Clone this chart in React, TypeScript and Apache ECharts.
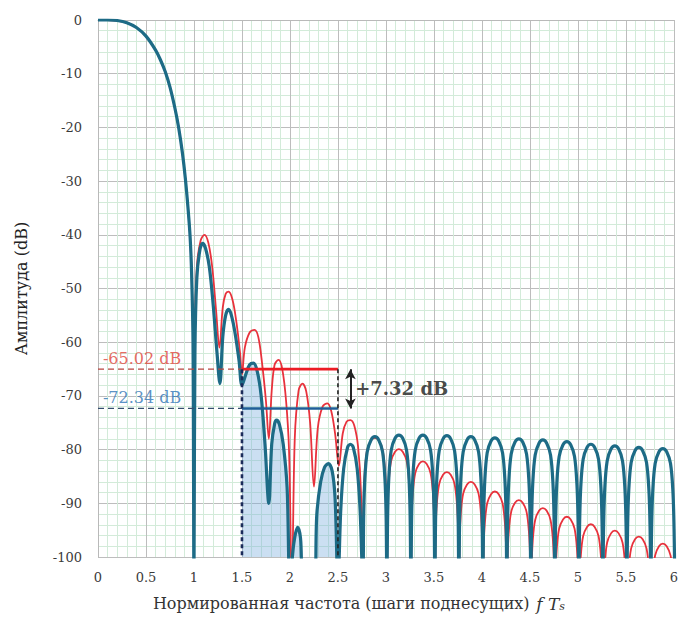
import React, { useEffect, useRef } from 'react';
import * as echarts from 'echarts';

// Blue (teal) spectrum: [normalised frequency, amplitude dB]
const blueCurve: number[][] = [
  [0, 0], [0.1, 0], [0.2, -0.1], [0.3, -0.5], [0.4, -1.4], [0.5, -3], [0.6, -5.6], [0.65, -7.4], [0.7, -9.6],
  [0.75, -12.5], [0.8, -16.3], [0.84, -20], [0.88, -24.8], [0.91, -29.5], [0.94, -35.5], [0.96, -40.5], [0.975, -47], [0.99, -60], [1.0, -105],
  [1.01, -62], [1.03, -48], [1.06, -43], [1.09, -41.6], [1.12, -42.5], [1.16, -46], [1.2, -53], [1.24, -62], [1.27, -67.7],
  [1.3, -59], [1.33, -55], [1.36, -53.9], [1.39, -55], [1.43, -58.5], [1.47, -63.5], [1.5, -68],
  [1.54, -66], [1.58, -64.2], [1.62, -63.9], [1.66, -65.5], [1.7, -70], [1.74, -79], [1.78, -90],
  [1.81, -79], [1.84, -75.2], [1.86, -74.5], [1.89, -75.3], [1.93, -79], [1.97, -87], [2.0, -105],
  [2.04, -97.5], [2.08, -94.5], [2.11, -96.5], [2.14, -105], [2.25, -105],
  [2.28, -92], [2.32, -86], [2.36, -83.3], [2.4, -82.6], [2.44, -84], [2.47, -89], [2.5, -105],
  [2.53, -91], [2.56, -83.5], [2.6, -79.6], [2.63, -79], [2.66, -79.6], [2.7, -83.5], [2.73, -91], [2.76, -105],
  [2.768, -92.6], [2.78, -85.6], [2.805, -80.4], [2.845, -78.2], [2.885, -77.6], [2.925, -78.2], [2.965, -80.4], [2.99, -85.6], [3.002, -92.6], [3.01, -105],
  [3.018, -92.3], [3.03, -85.3], [3.055, -80.1], [3.095, -77.9], [3.135, -77.3], [3.175, -77.9], [3.215, -80.1], [3.24, -85.3], [3.252, -92.3], [3.26, -105],
  [3.268, -92.3], [3.28, -85.3], [3.305, -80.1], [3.345, -77.9], [3.385, -77.3], [3.425, -77.9], [3.465, -80.1], [3.49, -85.3], [3.502, -92.3], [3.51, -105],
  [3.518, -92.4], [3.53, -85.4], [3.555, -80.2], [3.595, -78], [3.635, -77.4], [3.675, -78], [3.715, -80.2], [3.74, -85.4], [3.752, -92.4], [3.76, -105],
  [3.768, -92.6], [3.78, -85.6], [3.805, -80.4], [3.845, -78.2], [3.885, -77.6], [3.925, -78.2], [3.965, -80.4], [3.99, -85.6], [4.002, -92.6], [4.01, -105],
  [4.018, -92.8], [4.03, -85.8], [4.055, -80.6], [4.095, -78.4], [4.135, -77.8], [4.175, -78.4], [4.215, -80.6], [4.24, -85.8], [4.252, -92.8], [4.26, -105],
  [4.268, -93], [4.28, -86], [4.305, -80.8], [4.345, -78.6], [4.385, -78], [4.425, -78.6], [4.465, -80.8], [4.49, -86], [4.502, -93], [4.51, -105],
  [4.518, -93.2], [4.53, -86.2], [4.555, -81], [4.595, -78.8], [4.635, -78.2], [4.675, -78.8], [4.715, -81], [4.74, -86.2], [4.752, -93.2], [4.76, -105],
  [4.768, -93.5], [4.78, -86.5], [4.805, -81.3], [4.845, -79.1], [4.885, -78.5], [4.925, -79.1], [4.965, -81.3], [4.99, -86.5], [5.002, -93.5], [5.01, -105],
  [5.018, -94], [5.03, -87], [5.055, -81.8], [5.095, -79.6], [5.135, -79], [5.175, -79.6], [5.215, -81.8], [5.24, -87], [5.252, -94], [5.26, -105],
  [5.268, -94.3], [5.28, -87.3], [5.305, -82.1], [5.345, -79.9], [5.385, -79.3], [5.425, -79.9], [5.465, -82.1], [5.49, -87.3], [5.502, -94.3], [5.51, -105],
  [5.518, -94.6], [5.53, -87.6], [5.555, -82.4], [5.595, -80.2], [5.635, -79.6], [5.675, -80.2], [5.715, -82.4], [5.74, -87.6], [5.752, -94.6], [5.76, -105],
  [5.768, -94.8], [5.78, -87.8], [5.805, -82.6], [5.845, -80.4], [5.885, -79.8], [5.925, -80.4], [5.965, -82.6], [5.99, -87.8], [6.002, -94.8], [6.01, -105],
];

// Red spectrum
const redCurve: number[][] = [
  [0, 0], [0.1, 0], [0.2, -0.1], [0.3, -0.5], [0.4, -1.4], [0.5, -3], [0.6, -5.6], [0.65, -7.4], [0.7, -9.6],
  [0.75, -12.5], [0.8, -16.3], [0.84, -20], [0.88, -24.8], [0.91, -29.5], [0.94, -35.5], [0.96, -40.5], [0.975, -47], [0.99, -60], [1.0, -105],
  [1.01, -60], [1.03, -46], [1.07, -41], [1.11, -40], [1.15, -41.5], [1.19, -46], [1.23, -54], [1.265, -61],
  [1.3, -53.5], [1.33, -51], [1.36, -50.6], [1.4, -52], [1.44, -56], [1.48, -62], [1.5, -66],
  [1.53, -61], [1.58, -58.2], [1.63, -57.7], [1.67, -59], [1.71, -64], [1.75, -71], [1.78, -78],
  [1.81, -69], [1.84, -64.2], [1.88, -63.3], [1.92, -65], [1.96, -71], [1.99, -80], [2.02, -105],
  [2.05, -78], [2.09, -69], [2.13, -67.7], [2.17, -69.2], [2.21, -75], [2.25, -86.9],
  [2.29, -76], [2.34, -72], [2.39, -71.4], [2.43, -72.8], [2.47, -77], [2.51, -83],
  [2.55, -77], [2.59, -74.8], [2.63, -74.5], [2.67, -75.5], [2.71, -79.5], [2.74, -88], [2.76, -110],
  [2.768, -88.8], [2.78, -83.8], [2.805, -80], [2.845, -78.3], [2.885, -77.8], [2.925, -78.3], [2.965, -80], [2.99, -83.8], [3.002, -88.8], [3.01, -112],
  [3.018, -90.9], [3.03, -85.9], [3.055, -82.1], [3.095, -80.4], [3.135, -79.9], [3.175, -80.4], [3.215, -82.1], [3.24, -85.9], [3.252, -90.9], [3.26, -112],
  [3.268, -93.2], [3.28, -88.2], [3.305, -84.4], [3.345, -82.7], [3.385, -82.2], [3.425, -82.7], [3.465, -84.4], [3.49, -88.2], [3.502, -93.2], [3.51, -112],
  [3.518, -95.2], [3.53, -90.2], [3.555, -86.4], [3.595, -84.7], [3.635, -84.2], [3.675, -84.7], [3.715, -86.4], [3.74, -90.2], [3.752, -95.2], [3.76, -112],
  [3.768, -97], [3.78, -92], [3.805, -88.2], [3.845, -86.5], [3.885, -86], [3.925, -86.5], [3.965, -88.2], [3.99, -92], [4.002, -97], [4.01, -112],
  [4.018, -98.8], [4.03, -93.8], [4.055, -90], [4.095, -88.3], [4.135, -87.8], [4.175, -88.3], [4.215, -90], [4.24, -93.8], [4.252, -98.8], [4.26, -112],
  [4.268, -100.4], [4.28, -95.4], [4.305, -91.6], [4.345, -89.9], [4.385, -89.4], [4.425, -89.9], [4.465, -91.6], [4.49, -95.4], [4.502, -100.4], [4.51, -112],
  [4.518, -101.9], [4.53, -96.9], [4.555, -93.1], [4.595, -91.4], [4.635, -90.9], [4.675, -91.4], [4.715, -93.1], [4.74, -96.9], [4.752, -101.9], [4.76, -112],
  [4.768, -103.5], [4.78, -98.5], [4.805, -94.7], [4.845, -93], [4.885, -92.5], [4.925, -93], [4.965, -94.7], [4.99, -98.5], [5.002, -103.5], [5.01, -112],
  [5.018, -104.9], [5.03, -99.9], [5.055, -96.1], [5.095, -94.4], [5.135, -93.9], [5.175, -94.4], [5.215, -96.1], [5.24, -99.9], [5.252, -104.9], [5.26, -112],
  [5.268, -106.1], [5.28, -101.1], [5.305, -97.3], [5.345, -95.6], [5.385, -95.1], [5.425, -95.6], [5.465, -97.3], [5.49, -101.1], [5.502, -106.1], [5.51, -112],
  [5.518, -107.2], [5.53, -102.2], [5.555, -98.4], [5.595, -96.7], [5.635, -96.2], [5.675, -96.7], [5.715, -98.4], [5.74, -102.2], [5.752, -107.2], [5.76, -112],
  [5.768, -108.5], [5.78, -103.5], [5.805, -99.7], [5.845, -98], [5.885, -97.5], [5.925, -98], [5.965, -99.7], [5.99, -103.5], [6.002, -108.5], [6.01, -112],
];

const redLevel = -65.02;
const blueLevel = -72.34;
const bandStart = 1.5;
const bandEnd = 2.5;
const arrowX = 2.63;
const levelLabelX = 0.02;
const redLabel = '-65.02 dB';
const blueLabel = '-72.34 dB';
const deltaLabel = '+7.32 dB';
const deltaLabelPos = [2.68, -68.7];

const xTitle = 'Нормированная частота (шаги поднесущих)';
const yTitle = 'Амплитуда (dB)';

const serif = 'DejaVu Serif';

export default function App() {
  const ref = useRef<HTMLDivElement>(null);
  useEffect(() => {
    if (!ref.current) return;
    const chart = echarts.init(ref.current, undefined, { renderer: 'svg' });
    const bandFill = blueCurve.filter((p) => p[0] >= bandStart && p[0] <= bandEnd);
    const lineBase: any = {
      type: 'line',
      symbol: 'none',
      showSymbol: false,
      smooth: 0.35,
      clip: true,
      silent: true,
    };
    const axisCommon = {
      axisLine: { show: true, lineStyle: { color: '#b9b9b9', width: 1 } },
      axisTick: { show: false },
      splitLine: { show: true, lineStyle: { color: '#bdbdbd', width: 1 } },
      minorTick: { show: false, splitNumber: 5 },
      minorSplitLine: { show: true, lineStyle: { color: '#d3ebd9', width: 1 } },
    };
    chart.setOption({
      animation: false,
      backgroundColor: '#ffffff',
      grid: { left: 98, right: 4, top: 20, bottom: 69, containLabel: false },
      xAxis: {
        type: 'value',
        min: 0,
        max: 6,
        interval: 0.5,
        ...axisCommon,
        axisLabel: { fontFamily: serif, fontSize: 13, color: '#3a3a3a', margin: 14 },
        name: `{a|${xTitle}}  {i|f T}{s|s}`,
        nameLocation: 'middle',
        nameGap: 38,
        nameTextStyle: {
          padding: [0, 54, 0, 0],
          rich: {
            a: { fontFamily: serif, fontSize: 16, color: '#333' },
            i: { fontFamily: serif, fontSize: 17, fontStyle: 'italic', color: '#333' },
            s: { fontFamily: serif, fontSize: 11, fontStyle: 'italic', color: '#333', verticalAlign: 'bottom', lineHeight: 12 },
          },
        },
      },
      yAxis: {
        type: 'value',
        min: -100,
        max: 0,
        interval: 10,
        ...axisCommon,
        axisLabel: { fontFamily: serif, fontSize: 13, color: '#3a3a3a', margin: 16 },
        name: yTitle,
        nameLocation: 'middle',
        nameGap: 69,
        nameTextStyle: { fontFamily: serif, fontSize: 16, color: '#222' },
      },
      series: [
        {
          ...lineBase,
          name: 'band',
          data: bandFill,
          lineStyle: { width: 0 },
          areaStyle: { origin: 'start', color: 'rgba(120,172,222,0.55)' },
          z: 1,
        },
        { ...lineBase, name: 'red', data: redCurve, lineStyle: { color: '#e8323c', width: 1.8 }, z: 2 },
        { ...lineBase, name: 'blue', data: blueCurve, lineStyle: { color: '#1d6b86', width: 3.2 }, z: 3 },
        {
          type: 'line', symbol: 'none', silent: true, z: 4,
          data: [[0, redLevel], [bandStart, redLevel]],
          lineStyle: { color: '#b8453f', width: 1.3, type: [6, 4] },
        },
        {
          type: 'line', symbol: 'none', silent: true, z: 4,
          data: [[0, blueLevel], [bandStart, blueLevel]],
          lineStyle: { color: '#34506e', width: 1.3, type: [6, 4] },
        },
        {
          type: 'line', symbol: 'none', silent: true, z: 5,
          data: [[bandStart, redLevel], [bandEnd, redLevel]],
          lineStyle: { color: '#ec1c24', width: 2.6 },
        },
        {
          type: 'line', symbol: 'none', silent: true, z: 5,
          data: [[bandStart, blueLevel], [bandEnd, blueLevel]],
          lineStyle: { color: '#1f5f97', width: 2.6 },
          markLine: {
            silent: true,
            symbol: ['arrow', 'arrow'],
            symbolSize: [8, 10],
            label: { show: false },
            lineStyle: { color: '#222', width: 2, type: 'solid' },
            data: [[{ coord: [arrowX, redLevel] }, { coord: [arrowX, blueLevel] }]],
          },
        },
        {
          type: 'line', symbol: 'none', silent: true, z: 6,
          data: [[bandStart, redLevel], [bandStart, -100]],
          lineStyle: { color: '#1b2b5a', width: 2.6, type: [4, 3] },
        },
        {
          type: 'line', symbol: 'none', silent: true, z: 6,
          data: [[bandEnd, redLevel], [bandEnd, -100]],
          lineStyle: { color: '#222', width: 1.6, type: [4, 3] },
        },
        {
          type: 'scatter',
          symbolSize: 0,
          silent: true,
          z: 7,
          data: [
            {
              value: [levelLabelX, redLevel],
              label: { show: true, formatter: redLabel, position: 'insideBottomLeft', distance: 3, color: '#e0443a', fontFamily: serif, fontSize: 16 },
            },
            {
              value: [levelLabelX, blueLevel],
              label: { show: true, formatter: blueLabel, position: 'insideBottomLeft', distance: 3, color: '#2e74b5', fontFamily: serif, fontSize: 16 },
            },
            {
              value: deltaLabelPos,
              label: { show: true, formatter: deltaLabel, position: 'right', distance: 0, color: '#1a1a1a', fontFamily: serif, fontSize: 18, fontWeight: 'bold' },
            },
          ],
        },
      ],
    });
    return () => chart.dispose();
  }, []);
  return <div ref={ref} style={{ position: 'fixed', left: 0, top: 0, width: 681, height: 626, background: '#fff' }} />;
}
